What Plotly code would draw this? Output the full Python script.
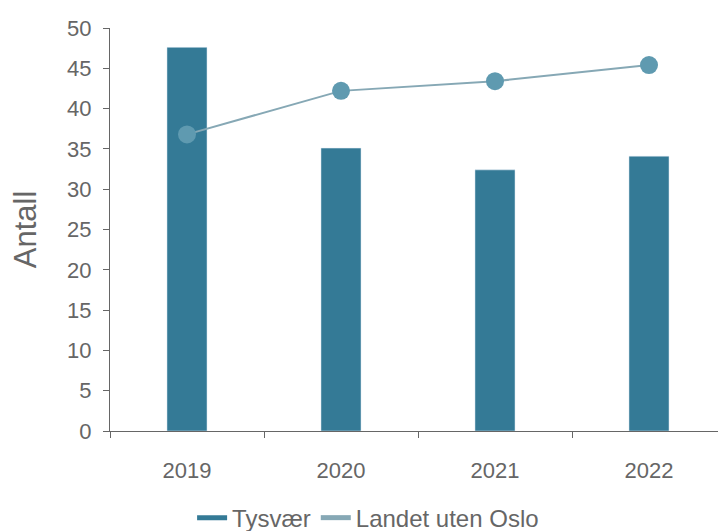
import plotly.graph_objects as go

years = ["2019", "2020", "2021", "2022"]
tysvaer = [47.6, 35.1, 32.4, 34.1]
landet_uten_oslo = [36.8, 42.2, 43.4, 45.4]
y_ticks = [0, 5, 10, 15, 20, 25, 30, 35, 40, 45, 50]

bar_color = "#347a96"
line_color = "#86a8b5"
marker_color = "#5f9ab0"
grey = "#666666"

fig = go.Figure()
fig.add_trace(go.Bar(x=years, y=tysvaer, name="Tysvær", marker_color=bar_color,
                     width=0.26, showlegend=False))
fig.add_trace(go.Scatter(x=years, y=landet_uten_oslo, name="Landet uten Oslo",
                         mode="lines+markers", line=dict(color=line_color, width=2),
                         marker=dict(color=marker_color, size=18), showlegend=False))
# legend entries drawn as line swatches
fig.add_trace(go.Scatter(x=[None], y=[None], name="Tysvær", mode="lines",
                         line=dict(color=bar_color, width=5)))
fig.add_trace(go.Scatter(x=[None], y=[None], name="Landet uten Oslo", mode="lines",
                         line=dict(color=line_color, width=5)))

fig.update_layout(
    width=726, height=531,
    margin=dict(l=102, r=8, t=20, b=108, autoexpand=False),
    plot_bgcolor="white", paper_bgcolor="white",
    font=dict(family="Liberation Sans, Arial, sans-serif", color=grey, size=22),
    legend=dict(orientation="h", x=0.419, xanchor="center", y=-0.216, yanchor="middle",
                font=dict(size=24, color=grey), itemwidth=30, tracegroupgap=0),
    xaxis=dict(type="category", showline=True, linecolor=grey, linewidth=1,
               ticks="outside", tickson="boundaries", ticklen=6, tickcolor=grey,
               showgrid=False, tickfont=dict(size=22, color=grey),
               automargin=False, ticklabelstandoff=20),
    yaxis=dict(range=[0, 50], tickvals=y_ticks, showline=True, linecolor=grey,
               linewidth=1, ticks="outside", ticklen=6, tickcolor=grey,
               showgrid=False, zeroline=False, tickfont=dict(size=22, color=grey),
               automargin=False, ticklabelstandoff=7,
               title=dict(text="Antall", font=dict(size=31, color=grey), standoff=27)),
)

fig.write_html("out.html")
